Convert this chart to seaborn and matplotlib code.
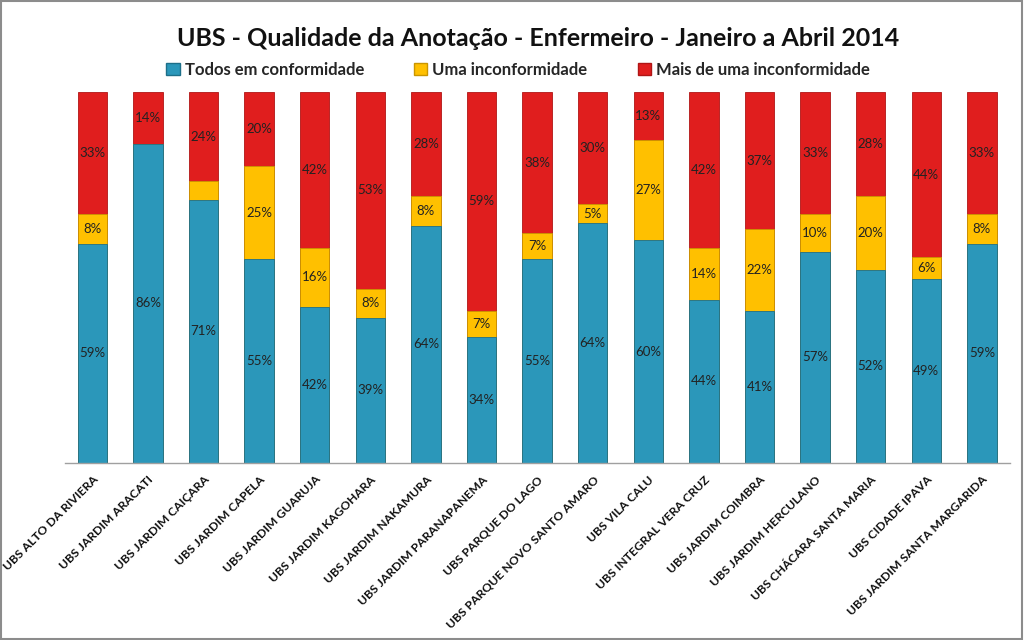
import numpy as np
import pandas as pd
import matplotlib
matplotlib.use("Agg")
import matplotlib.pyplot as plt
import seaborn as sns
from matplotlib.patches import Rectangle, Patch

sns.set_theme(style="white")
plt.rcParams['font.family'] = ['Lato', 'DejaVu Sans']

# dados (%)
unidades = ['UBS ALTO DA RIVIERA', 'UBS JARDIM ARACATI', 'UBS JARDIM CAIÇARA', 'UBS JARDIM CAPELA',
            'UBS JARDIM GUARUJA', 'UBS JARDIM KAGOHARA', 'UBS JARDIM NAKAMURA', 'UBS JARDIM PARANAPANEMA',
            'UBS PARQUE DO LAGO', 'UBS PARQUE NOVO SANTO AMARO', 'UBS VILA CALU', 'UBS INTEGRAL VERA CRUZ',
            'UBS JARDIM COIMBRA', 'UBS JARDIM HERCULANO', 'UBS CHÁCARA SANTA MARIA', 'UBS CIDADE IPAVA',
            'UBS JARDIM SANTA MARGARIDA']
conformidade = [59, 86, 71, 55, 42, 39, 64, 34, 55, 64, 60, 44, 41, 57, 52, 49, 59]
uma_inconf = [8, 0, 5, 25, 16, 8, 8, 7, 7, 5, 27, 14, 22, 10, 20, 6, 8]
mais_inconf = [33, 14, 24, 20, 42, 53, 28, 59, 38, 30, 13, 42, 37, 33, 28, 44, 33]
# rótulo da faixa amarela oculto no original (Caiçara)
mostrar_amarelo = [True, False, False, True, True, True, True, True, True, True, True, True, True,
                   True, True, True, True]

c_azul = '#2B97BA'
c_amarelo = '#FFC000'
c_vermelho = '#E01E1E'

df = pd.DataFrame({'ubs': unidades, 'azul': conformidade, 'amarelo': uma_inconf, 'vermelho': mais_inconf})
# gráfico 100% empilhado: normaliza pela soma de cada UBS
total = df['azul'] + df['amarelo'] + df['vermelho']
df['p_azul'] = df['azul'] / total * 100
df['p_amarelo'] = df['amarelo'] / total * 100
df['p_vermelho'] = df['vermelho'] / total * 100
df['topo_amarelo'] = df['p_azul'] + df['p_amarelo']
df['topo'] = df['topo_amarelo'] + df['p_vermelho']

fig = plt.figure(figsize=(10.24, 6.4), dpi=100)
ax = fig.add_axes([0.063, 0.277, 0.923, 0.579])

sns.barplot(data=df, x='ubs', y='topo', color=c_vermelho, width=0.53, saturation=1, ax=ax,
            edgecolor='#B01515', linewidth=0.6)
sns.barplot(data=df, x='ubs', y='topo_amarelo', color=c_amarelo, width=0.53, saturation=1, ax=ax,
            edgecolor='#C99500', linewidth=0.6)
sns.barplot(data=df, x='ubs', y='p_azul', color=c_azul, width=0.53, saturation=1, ax=ax,
            edgecolor='#1D6F89', linewidth=0.6)

for i, r in df.iterrows():
    ax.text(i, r['p_azul'] / 2, f"{r['azul']}%", ha='center', va='center', fontsize=9.5, color='#222222')
    if r['amarelo'] > 0 and mostrar_amarelo[i]:
        ax.text(i, r['p_azul'] + r['p_amarelo'] / 2, f"{r['amarelo']}%", ha='center', va='center',
                fontsize=9.5, color='#222222')
    ax.text(i, r['topo_amarelo'] + r['p_vermelho'] / 2, f"{r['vermelho']}%", ha='center', va='center',
            fontsize=9.5, color='#222222')

ax.set_ylim(0, 100)
ax.set_xlim(-0.5, len(unidades) - 0.5)
ax.set_yticks([])
ax.set_xlabel('')
ax.set_ylabel('')
for s in ['top', 'right', 'left']:
    ax.spines[s].set_visible(False)
ax.spines['bottom'].set_color('#A0A0A0')
ax.spines['bottom'].set_linewidth(1)
ax.set_xticks(range(len(unidades)))
ax.set_xticklabels(unidades, rotation=45, ha='right', rotation_mode='anchor',
                   fontsize=8.7, fontweight='bold', color='#111111')
ax.tick_params(axis='x', length=0, pad=8)

fig.text(0.526, 0.94, 'UBS - Qualidade da Anotação - Enfermeiro - Janeiro a Abril 2014',
         ha='center', va='center', fontsize=18, fontweight='bold', color='#111111')

handles = [Patch(facecolor=c_azul, edgecolor='#1D6F89'),
           Patch(facecolor=c_amarelo, edgecolor='#C99500'),
           Patch(facecolor=c_vermelho, edgecolor='#B01515')]
fig.legend(handles, ['Todos em conformidade', 'Uma inconformidade', 'Mais de uma inconformidade'],
           loc='center', bbox_to_anchor=(0.506, 0.891), ncol=3, frameon=False,
           prop={'size': 12, 'weight': 'bold'}, handlelength=0.8, handleheight=0.8,
           handletextpad=0.3, columnspacing=3.0)

fig.patches.append(Rectangle((0.001, 0.001), 0.997, 0.997, transform=fig.transFigure,
                             fill=False, edgecolor='#8C8C8C', linewidth=1.5))

fig.savefig('out.png', dpi=100)
